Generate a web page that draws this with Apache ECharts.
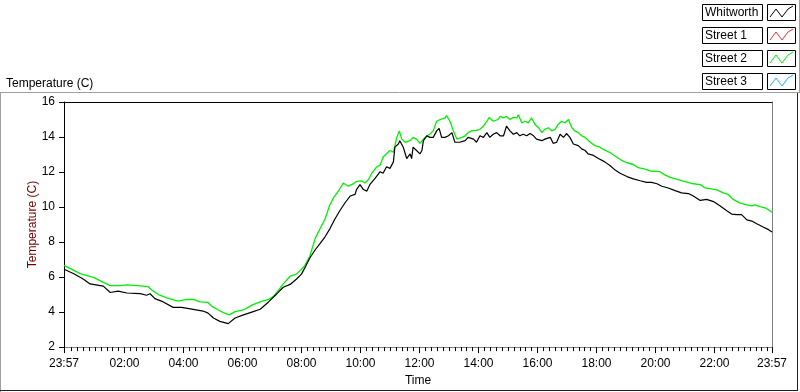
<!DOCTYPE html>
<html>
<head>
<meta charset="utf-8">
<title>Temperature</title>
<script src="https://cdn.jsdelivr.net/npm/echarts@6.0.0/dist/echarts.min.js"></script>
<style>
  html, body { margin: 0; padding: 0; background: #fff; }
  #main { width: 800px; height: 392px; }
</style>
</head>
<body>
<div id="main"></div>
<script>
// 时间：从午夜算起的分钟数（-3 = 前一天 23:57）
var whitTimes = [-3,16,36,50,77,91,107,125,152,165,172,182,199,219,236,240,260,280,290,301,
  314,331,345,362,382,396,413,430,443,457,470,480,487,497,508,518,528,538,548,558,
  569,579,589,592,599,606,613,619,630,640,646,653,660,667,670,677,680,687,694,701,
  704,707,714,721,725,728,735,741,748,755,760,765,772,779,786,792,802,813,819,830,
  836,843,850,857,863,870,877,884,887,891,897,904,911,918,924,931,938,945,952,958,
  969,975,986,992,999,1006,1013,1019,1026,1033,1043,1050,1057,1063,1074,1084,1087,1097,1108,1118,
  1128,1142,1155,1169,1182,1192,1203,1213,1226,1240,1253,1267,1277,1291,1304,1318,1331,1345,1355,1365,
  1375,1386,1396,1406,1419,1430,1437];
var whitTemps = [6.45,6.20,5.89,5.61,5.48,5.12,5.20,5.09,5.05,4.96,
  5.05,4.77,4.58,4.27,4.27,4.34,4.16,4.06,3.94,3.66,
  3.47,3.34,3.66,3.84,4.03,4.16,4.58,5.05,5.42,5.58,
  5.89,6.17,6.54,7.09,7.56,7.93,8.30,8.77,9.32,9.79,
  10.26,10.63,10.72,11.00,11.28,11.00,10.91,11.28,11.65,12.02,
  11.93,12.30,12.21,12.58,13.42,13.60,13.79,13.42,12.77,13.04,
  12.77,13.42,13.23,13.04,13.23,13.79,14.07,13.98,13.98,14.35,
  14.49,13.98,13.98,14.07,14.25,13.70,13.70,13.79,13.98,13.88,
  13.70,14.07,13.98,14.25,13.98,14.16,14.25,14.07,13.98,14.07,
  14.62,14.35,14.16,14.25,14.07,14.16,14.07,14.20,14.07,13.88,
  13.79,13.88,13.98,13.64,13.70,14.16,13.98,14.20,13.98,13.60,
  13.51,13.32,13.23,13.04,12.95,12.77,12.67,12.58,12.36,12.11,
  11.93,11.74,11.61,11.50,11.41,11.41,11.33,11.19,11.09,10.94,
  10.81,10.77,10.63,10.38,10.44,10.31,10.07,9.79,9.60,9.57,
  9.57,9.27,9.20,9.05,8.86,8.71,8.58];

var street2Times = [-3,30,57,77,91,111,125,152,168,175,189,206,229,247,260,274,290,297,311,321,
  333,345,362,379,396,413,423,433,443,457,470,480,487,497,508,518,528,537,545,557,
  565,569,575,585,592,602,609,616,623,633,640,646,653,660,667,674,679,684,691,701,
  707,714,721,728,735,741,748,755,762,772,775,782,789,796,806,813,819,826,836,843,
  850,857,862,870,880,884,891,897,904,911,918,921,928,935,941,948,955,962,969,975,
  982,989,996,1002,1009,1016,1023,1030,1036,1043,1050,1057,1063,1070,1077,1087,1094,1108,1121,1131,
  1142,1155,1165,1179,1189,1209,1219,1230,1246,1264,1277,1291,1301,1314,1325,1338,1348,1358,1372,1386,
  1396,1402,1413,1426,1437];
var street2Temps = [6.67,6.20,5.98,5.70,5.51,5.51,5.55,5.50,5.46,5.27,
  5.00,4.81,4.62,4.72,4.72,4.58,4.55,4.34,4.12,3.97,
  3.84,4.03,4.12,4.40,4.58,4.72,4.90,5.24,5.61,6.05,
  6.17,6.45,6.67,7.19,8.21,8.77,9.32,10.07,10.53,11.00,
  11.37,11.47,11.19,11.32,11.47,11.50,11.37,11.56,11.93,12.30,
  12.39,12.86,13.04,13.23,13.14,13.98,14.35,13.88,13.70,13.79,
  13.98,13.88,13.64,13.88,14.07,14.16,14.35,14.90,15.00,15.09,
  15.22,14.90,14.35,13.88,13.98,14.07,14.25,14.35,14.38,14.44,
  14.62,14.90,15.12,14.90,15.00,15.18,15.09,15.18,15.00,15.12,
  15.09,15.27,14.81,14.90,14.81,15.09,14.72,14.53,14.25,14.44,
  14.53,14.35,14.44,14.72,14.90,14.81,15.00,14.53,14.35,14.25,
  14.07,13.98,13.82,13.64,13.51,13.42,13.29,13.10,12.86,12.67,
  12.53,12.43,12.25,12.17,12.06,12.02,11.84,11.69,11.56,11.43,
  11.33,11.28,11.09,11.04,10.98,10.81,10.72,10.44,10.22,10.13,
  10.07,10.13,10.03,9.92,9.70];

// 图例
var legendNames = ['Whitworth', 'Street 1', 'Street 2', 'Street 3'];
var legendColors = ['#000000', '#ff3030', '#00f000', '#20b0ff'];

// x 轴刻度（分钟）
var xLabelTicks = [-3, 120, 240, 360, 480, 600, 720, 840, 960, 1080, 1200, 1320, 1437];

var FONT = 'Liberation Sans';

function pairs(ts, vs) {
    var out = [];
    for (var i = 0; i < ts.length; i++) out.push([ts[i], vs[i]]);
    return out;
}

function fmtTime(v) {
    var m = ((Math.round(v) % 1440) + 1440) % 1440;
    var h = Math.floor(m / 60), mm = m % 60;
    return (h < 10 ? '0' : '') + h + ':' + (mm < 10 ? '0' : '') + mm;
}

// 小刻度：每 12 分钟一个
var minorTicks = [];
for (var t = 0; t < 1437; t += 12) {
    if (t % 120 !== 0) minorTicks.push(t);
}

// 右上角图例（LabVIEW 样式）
var legendGraphics = [];
legendNames.forEach(function (name, i) {
    var y0 = 4 + i * 23;
    legendGraphics.push({
        type: 'rect', shape: { x: 702.5, y: y0 + 0.5, width: 60, height: 16 },
        style: { fill: '#fff', stroke: '#000', lineWidth: 1 }
    });
    legendGraphics.push({
        type: 'text', x: 705, y: y0 + 9,
        style: { text: name, fill: '#000', font: '12px ' + FONT, textVerticalAlign: 'middle' }
    });
    legendGraphics.push({
        type: 'rect', shape: { x: 767.5, y: y0 + 0.5, width: 28, height: 16 },
        style: { fill: '#fff', stroke: '#000', lineWidth: 1 }
    });
    legendGraphics.push({
        type: 'polyline',
        shape: { points: [[770, y0 + 13], [776, y0 + 5], [782, y0 + 13], [788, y0 + 5], [793, y0 + 2]] },
        style: { stroke: legendColors[i], lineWidth: 1, fill: null }
    });
});

var frameGraphics = [
    { type: 'line', shape: { x1: 0, y1: 92.5, x2: 799, y2: 92.5 }, style: { stroke: '#a0a0a0', lineWidth: 1 } },
    { type: 'line', shape: { x1: 0.5, y1: 92, x2: 0.5, y2: 392 }, style: { stroke: '#a0a0a0', lineWidth: 1 } },
    { type: 'line', shape: { x1: 797.5, y1: 93, x2: 797.5, y2: 391 }, style: { stroke: '#202020', lineWidth: 1 } },
    { type: 'line', shape: { x1: 0, y1: 390.5, x2: 798, y2: 390.5 }, style: { stroke: '#202020', lineWidth: 1 } },
    { type: 'line', shape: { x1: 799.5, y1: 0, x2: 799.5, y2: 93 }, style: { stroke: '#a0a0a0', lineWidth: 1 } }
];

var myChart = echarts.init(document.getElementById('main'));
var option = {
    animation: false,
    backgroundColor: '#fff',
    title: {
        text: 'Temperature (C)',
        left: 1, top: 73,
        textStyle: { fontFamily: FONT, fontSize: 12, fontWeight: 'normal', color: '#000' }
    },
    grid: { left: 64, right: 28, top: 102, bottom: 39 },
    xAxis: [{
        type: 'value', min: -3, max: 1437,
        name: 'Time', nameLocation: 'middle', nameGap: 27,
        nameTextStyle: { fontFamily: FONT, fontSize: 12, color: '#000' },
        axisLine: { show: true, onZero: false, lineStyle: { color: '#808080', width: 1 } },
        axisTick: { show: true, length: 6, customValues: xLabelTicks, lineStyle: { color: '#000' } },
        axisLabel: {
            customValues: xLabelTicks, margin: 11,
            fontFamily: FONT, fontSize: 12, color: '#000',
            formatter: function (v) { return fmtTime(v); }
        },
        splitLine: { show: false }
    }, {
        // 小刻度
        type: 'value', min: -3, max: 1437, position: 'bottom',
        axisLine: { show: false },
        axisTick: { show: true, length: 4, customValues: minorTicks, lineStyle: { color: '#000' } },
        axisLabel: { show: false },
        splitLine: { show: false }
    }, {
        // 顶部边框
        type: 'value', min: -3, max: 1437, position: 'top',
        axisLine: { show: true, onZero: false, lineStyle: { color: '#000', width: 1 } },
        axisTick: { show: false }, axisLabel: { show: false }, splitLine: { show: false }
    }],
    yAxis: [{
        type: 'value', min: 2, max: 16, interval: 2,
        name: 'Temperature (C)', nameLocation: 'middle', nameGap: 25,
        nameMoveOverlap: false,
        nameTextStyle: { fontFamily: FONT, fontSize: 12, color: '#700000' },
        axisLine: { show: true, onZero: false, lineStyle: { color: '#000', width: 1 } },
        axisTick: { show: true, length: 5, lineStyle: { color: '#000' } },
        axisLabel: { margin: 9, fontFamily: FONT, fontSize: 12, color: '#000' },
        splitLine: { show: false }
    }, {
        // 右侧边框
        type: 'value', min: 2, max: 16, position: 'right',
        axisLine: { show: true, onZero: false, lineStyle: { color: '#808080', width: 1 } },
        axisTick: { show: false }, axisLabel: { show: false }, splitLine: { show: false }
    }],
    graphic: frameGraphics.concat(legendGraphics),
    series: [{
        name: legendNames[2],
        type: 'line',
        data: pairs(street2Times, street2Temps),
        showSymbol: false,
        lineStyle: { color: legendColors[2], width: 1.3 },
        z: 2
    }, {
        name: legendNames[0],
        type: 'line',
        data: pairs(whitTimes, whitTemps),
        showSymbol: false,
        lineStyle: { color: legendColors[0], width: 1.2 },
        z: 3
    }]
};
myChart.setOption(option, true);
</script>
</body>
</html>
